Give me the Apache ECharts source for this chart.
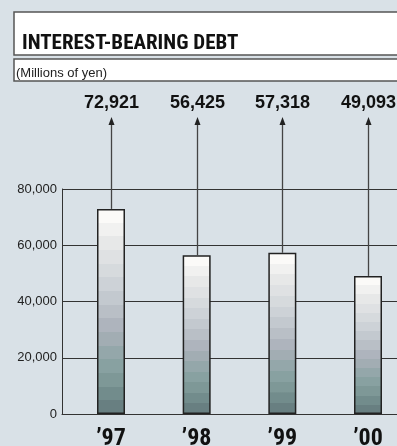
<!DOCTYPE html>
<html><head><meta charset="utf-8">
<script src="https://cdn.jsdelivr.net/npm/echarts@6/dist/echarts.min.js"></script>
<style>html,body{margin:0;padding:0;background:#d9e1e7;}#c{width:397px;height:446px;}</style>
</head><body><div id="c"></div>
<script>
const categories = ["’97", "’98", "’99", "’00"];
const debtValues = [72921, 56425, 57318, 49093];
const yTicks = [0, 20000, 40000, 60000, 80000];
const titleText = "INTEREST-BEARING DEBT";
const unitText = "(Millions of yen)";

const bandColors = ["#fbfaf8","#f1f1f0","#e7e8e8","#dfe1e3","#d6dadd","#cdd2d7","#c3c9cf","#b9bfc6","#aeb4bd","#a2adb3","#94a7aa","#88a1a1","#7e9897","#728c8c","#687f81"];
const stops = [];
bandColors.forEach((c, i) => {
  stops.push({offset: i / bandColors.length, color: c});
  stops.push({offset: (i + 1) / bandColors.length - 0.0001, color: c});
});
const fmt = v => v.toLocaleString('en-US');

const chart = echarts.init(document.getElementById('c'), null, {renderer: 'canvas'});
chart.setOption({
  backgroundColor: '#d9e1e7',
  animation: false,
  graphic: [
    {type: 'rect', shape: {x: 14, y: 12, width: 420, height: 43}, style: {fill: '#fff', stroke: '#555', lineWidth: 1.5}},
    {type: 'rect', shape: {x: 14, y: 59, width: 420, height: 22}, style: {fill: '#fff', stroke: '#555', lineWidth: 1.5}},
    {type: 'text', x: 22, y: 54, style: {text: titleText, font: 'bold 21px "Roboto Condensed"', fill: '#111', textVerticalAlign: 'bottom'}},
    {type: 'text', x: 16, y: 73.5, style: {text: unitText, font: '13px "Liberation Sans"', fill: '#222', textVerticalAlign: 'middle'}}
  ],
  grid: [
    {left: 62, top: 189, right: 0, height: 225, outerBoundsMode: 'none', containLabel: false},
    {left: 111, top: 189, right: 29, height: 225, outerBoundsMode: 'none', containLabel: false}
  ],
  xAxis: [
    {gridIndex: 0, type: 'value', min: 0, max: 1, axisLine: {show: true, lineStyle: {color: '#333', width: 1}}, axisTick: {show: false}, axisLabel: {show: false}, splitLine: {show: false}},
    {gridIndex: 1, type: 'category', data: categories, boundaryGap: false, axisLine: {show: false}, axisTick: {show: false},
     axisLabel: {margin: 13, fontFamily: 'Roboto Condensed', fontWeight: 'bold', fontSize: 24, color: '#111'}}
  ],
  yAxis: [
    {gridIndex: 0, type: 'value', min: 0, max: 80000, interval: 20000,
     axisLine: {show: true, lineStyle: {color: '#333', width: 1}}, axisTick: {show: false},
     axisLabel: {margin: 5, fontFamily: 'Liberation Sans', fontSize: 13, color: '#222', formatter: v => fmt(v)},
     splitLine: {lineStyle: {color: '#333', width: 1}}},
    {gridIndex: 1, type: 'value', min: 0, max: 80000, show: false}
  ],
  series: [
    {type: 'bar', xAxisIndex: 1, yAxisIndex: 1, data: debtValues, barWidth: 28,
     itemStyle: {color: {type: 'linear', x: 0, y: 0, x2: 0, y2: 1, colorStops: stops}, borderColor: '#222', borderWidth: 1.5}},
    {type: 'custom', xAxisIndex: 1, yAxisIndex: 1, data: debtValues.map((v, i) => [i, v]),
     renderItem: (params, api) => {
       const p = api.coord([api.value(0), api.value(1)]);
       const tipY = params.coordSys.y - 72;
       const x = Math.round(p[0]) + 0.5;
       return {type: 'group', children: [
         {type: 'line', shape: {x1: x, y1: p[1], x2: x, y2: tipY + 5}, style: {stroke: '#444', lineWidth: 1.3}},
         {type: 'polygon', shape: {points: [[x, tipY], [x - 3, tipY + 8], [x + 3, tipY + 8]]}, style: {fill: '#222'}},
         {type: 'text', x: x, y: tipY - 14, style: {text: fmt(api.value(1)), font: 'bold 18px "Liberation Sans"', fill: '#111', textAlign: 'center', textVerticalAlign: 'middle'}}
       ]};
     }, z: 5}
  ]
});
</script></body></html>
